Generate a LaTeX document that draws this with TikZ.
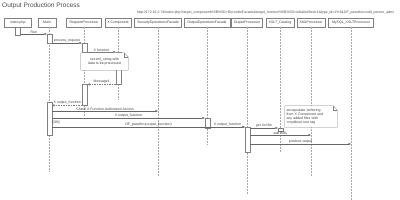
\documentclass[tikz,border=0pt]{standalone}
\usepackage{fontspec}
\setmainfont{Liberation Sans}
\usetikzlibrary{arrows.meta}
\newcommand{\tinyf}{\fontsize{3.5}{4.2}\selectfont}
\tikzset{
  head/.style={draw=black!50, fill=white, minimum height=9pt, inner sep=0pt, font=\tinyf, text=black!75, line width=0.35pt},
  life/.style={draw=black!35, dashed, dash pattern=on 1.5pt off 1.5pt, line width=0.35pt},
  act/.style={draw=black!50, fill=white, minimum width=5pt, inner sep=0pt, anchor=north, line width=0.35pt},
  msg/.style={draw=black!60, line width=0.35pt, -{Triangle[length=2.5pt,width=2pt]}},
  ret/.style={draw=black!50, line width=0.35pt, dashed, dash pattern=on 1.5pt off 1pt, -{Straight Barb[length=2pt,width=2.5pt]}},
  lbl/.style={font=\tinyf, text=black!75, inner sep=0.6pt, anchor=south},
  notetext/.style={font=\tinyf, text=black!75, inner sep=1.5pt},
  noteline/.style={draw=black!50, line width=0.35pt}
}
\begin{document}
\begin{tikzpicture}[x=1pt,y=-1pt]
\useasboundingbox (0,0) rectangle (400,200);
% title and url
\node[anchor=west, inner sep=0pt, font=\fontsize{6.5}{7.5}\selectfont, text=black!70] (title) at (2,6) {Output Production Process};
\node[anchor=west, inner sep=0pt, font=\tinyf, text=black!70] (url) at (137,12.5) {http://172.16.2.74/index.php?target\_component\%5B\%5D=RecordInFacade\&target\_function\%5B\%5D=initializeBed=1\&type\_id=1\%3\&OF\_passthru=edit\_person\_admi};
% heads
\node[head, minimum width=27pt] (hidx) at (18,22.5) {index.php};
\node[head, minimum width=18pt] (hmain) at (47,22.5) {Main};
\node[head, minimum width=35pt] (hrp) at (84,22.5) {RequestProcessor};
\node[head, minimum width=26pt] (hxc) at (118,22.5) {X Component};
\node[head, minimum width=47pt] (hsec) at (158,22.5) {SecurityOperationsFacade};
\node[head, minimum width=46pt] (hoof) at (207,22.5) {OutputOperationsFacade};
\node[head, minimum width=31pt] (hop) at (247,22.5) {OutputProcessor};
\node[head, minimum width=28pt] (hxslt) at (280,22.5) {XSLT\_Catalog};
\node[head, minimum width=28pt] (hxml) at (311,22.5) {XMLProcessor};
\node[head, minimum width=45pt] (hmy) at (351,22.5) {MySQL\_XSLTProcessor};
% lifeline ends
\coordinate (emain) at (49,172);
\coordinate (erp) at (84,117);
\coordinate (exc) at (118,100);
\coordinate (esec) at (158,177);
\coordinate (eoof) at (207,145);
\coordinate (eop) at (247,195);
\coordinate (exslt) at (280,152);
\coordinate (exml) at (311,177);
\coordinate (emy) at (351,200);
\draw[life] (hmain.south -| emain) -- (emain);
\draw[life] (hrp.south) -- (erp);
\draw[life] (hxc.south) -- (exc);
\draw[life] (hsec.south) -- (esec);
\draw[life] (hoof.south) -- (eoof);
\draw[life] (hop.south) -- (eop);
\draw[life] (hxslt.south) -- (exslt);
\draw[life] (hxml.south) -- (exml);
\draw[life] (hmy.south) -- (emy);
% activations
\node[act, minimum height=8pt] (aidx) at (18,27) {};
\node[act, minimum height=9pt] (amain1) at (49.5,34) {};
\node[act, minimum height=9pt] (arp1) at (84.5,43) {};
\node[act, minimum height=32pt] (axc) at (118.5,52) {};
\node[act, minimum height=21pt] (arp2) at (85,84) {};
\node[act, minimum height=33pt] (amain2) at (49.5,102) {};
\node[act, minimum height=10pt] (aoof) at (207.5,118) {};
\node[act, minimum height=25pt] (aop) at (247.5,127) {};
\node[act, minimum height=3pt] (axslt) at (280.5,128) {};
\coordinate (csec) at (158,111);
\coordinate (cxml) at (311,135);
\coordinate (cmy) at (351,144);
% messages
\draw[msg] (aidx.east |- amain1.north) -- node[lbl] {Run} (amain1.north west);
\draw[msg] (amain1.east |- arp1.north) -- node[lbl] {process\_request} (arp1.north west);
\draw[msg] (arp1.east |- axc.north) -- node[lbl] {X function} (axc.north west);
% note 1
\node[notetext, align=center, minimum width=47pt, minimum height=17pt] (n1) at (104.5,61.5) {set xml\_string with\\data to be processed};
\draw[noteline, fill=white] (n1.north west) -- ([xshift=-4pt]n1.north east) -- ([yshift=-4pt]n1.north east) -- (n1.south east) -- (n1.south west) -- cycle;
\draw[noteline] ([xshift=-4pt]n1.north east) -- ([xshift=-4pt,yshift=-4pt]n1.north east) -- ([yshift=-4pt]n1.north east);
\node[notetext, align=center] at (n1) {set xml\_string with\\data to be processed};
\draw[ret] (axc.south west) -- node[lbl] {Message1} (arp2.east |- axc.south);
\draw[ret] (arp2.south west) -- node[lbl] {X output\_function} (amain2.east |- arp2.south);
\draw[msg] (amain2.east |- csec) -- node[lbl] {Check X Function Authorized Access} (csec);
\draw[msg] (amain2.east |- aoof.north) -- node[lbl] {X output\_function} (aoof.north west);
\draw[msg] (amain2.east |- aop.north) -- node[lbl] {OF\_passthru(output\_function)} (aop.north west);
\node[font=\tinyf, text=black!75, inner sep=0pt, anchor=south west] (ob) at (52.5,124.5) {[OB]};
\draw[msg] (aoof.east |- aop.north) -- node[lbl] {X output\_function} (aop.north west);
\draw[msg] (aop.east |- axslt.north) -- node[lbl] {get Xsl file} (axslt.north west);
\draw[msg] (aop.east |- cxml) -- node[lbl] {add XML} (cxml);
\draw[msg] (aop.east |- cmy) -- node[lbl] {produce output} (cmy);
% note 2
\node[notetext, align=left, minimum width=52pt, minimum height=21pt, text width=49pt] (n2) at (311,116.5) {encapsulate xmlstring\\from X Component and\\any added files with\\\textless mydbout root tag};
\draw[noteline, fill=white] (n2.north west) -- ([xshift=-4pt]n2.north east) -- ([yshift=-4pt]n2.north east) -- (n2.south east) -- (n2.south west) -- cycle;
\draw[noteline] ([xshift=-4pt]n2.north east) -- ([xshift=-4pt,yshift=-4pt]n2.north east) -- ([yshift=-4pt]n2.north east);
\node[notetext, align=left, text width=49pt] at (n2) {encapsulate xmlstring\\from X Component and\\any added files with\\\textless mydbout root tag};
\end{tikzpicture}
\end{document}
